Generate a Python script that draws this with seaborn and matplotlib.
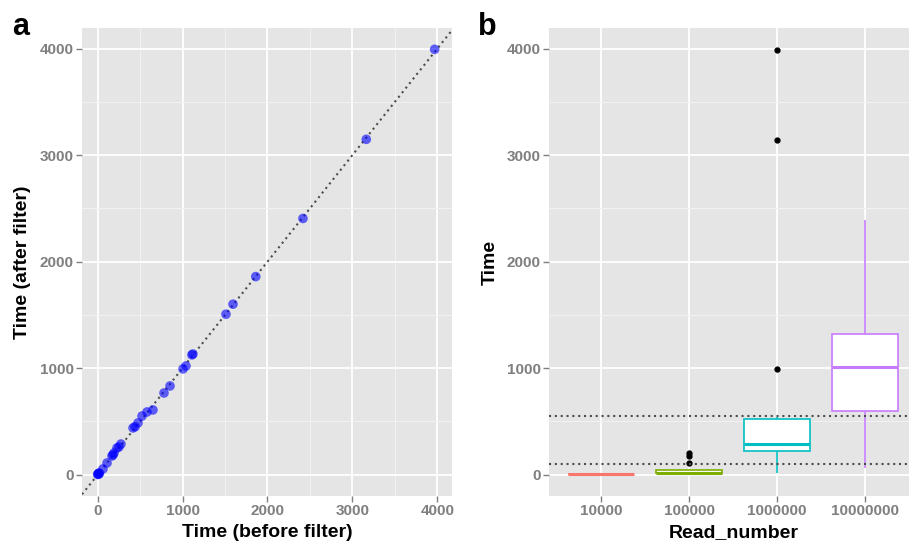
import numpy as np
import pandas as pd
import matplotlib
matplotlib.use("Agg")
import matplotlib.pyplot as plt
import seaborn as sns
from matplotlib.ticker import MultipleLocator

# panel a: run time before / after filtering
before_filter = [0, 5, 10, 15, 20, 62, 110, 168, 180, 192, 227, 250, 274, 416, 440,
                 475, 522, 581, 651, 781, 852, 1005, 1040, 1110, 1122, 1511, 1594,
                 1862, 2418, 3164, 3969]
after_filter = [2, 8, 5, 16, 12, 54, 110, 176, 185, 204, 251, 260, 288, 439, 450,
                486, 551, 589, 608, 767, 833, 993, 1021, 1125, 1133, 1507, 1601,
                1860, 2406, 3149, 3994]

# panel b: time per read number
read_numbers = ["10000", "100000", "1000000", "10000000"]
time_10k = [2, 3, 4, 5, 6, 7, 8]
time_100k = [9, 10, 11, 12, 13, 14, 15, 16, 17, 107, 176, 201]
time_1m = [19, 150, 195, 210, 223, 240, 258, 272, 288, 340, 420, 480, 523, 545,
           990, 3146, 3991]
time_10m = [60, 420, 601, 830, 1014, 1130, 1320, 1860, 2395]
box_colors = ["#F8766D", "#7CAE00", "#00BFC4", "#C77CFF"]
cutoffs = [100, 550]

sns.set_theme(style="darkgrid", rc={
    "axes.facecolor": "#E5E5E5",
    "grid.color": "white",
    "axes.edgecolor": "none",
    "axes.labelcolor": "black",
    "text.color": "black",
    "xtick.bottom": True,
    "ytick.left": True,
    "xtick.color": "#7F7F7F",
    "ytick.color": "#7F7F7F",
    "xtick.major.size": 4,
    "ytick.major.size": 4,
    "xtick.major.width": 1,
    "ytick.major.width": 1,
})
plt.rcParams["font.family"] = ["Liberation Sans", "DejaVu Sans"]

fig = plt.figure(figsize=(9.09, 5.42), dpi=100)
ax_a = fig.add_axes([0.0902, 0.0849, 0.4067, 0.8634])
ax_b = fig.add_axes([0.604, 0.0849, 0.406, 0.8634])


def style_axis(ax):
    ax.set_ylim(-200, 4194)
    ax.yaxis.set_major_locator(MultipleLocator(1000))
    ax.yaxis.set_minor_locator(MultipleLocator(500))
    ax.grid(which="major", color="white", linewidth=1.3)
    ax.grid(which="minor", axis="y", color="#F2F2F2", linewidth=0.7)
    ax.tick_params(which="minor", length=0)
    ax.tick_params(which="major", labelsize=11, pad=2)
    for lab in ax.get_xticklabels() + ax.get_yticklabels():
        lab.set_fontweight("bold")
    for s in ax.spines.values():
        s.set_visible(False)
    ax.set_axisbelow(True)


# ---- panel a ----
df_a = pd.DataFrame({"before": before_filter, "after": after_filter})
sns.scatterplot(data=df_a, x="before", y="after", ax=ax_a, color="#0000FF",
                alpha=0.6, s=48, edgecolor="none", zorder=3)
ax_a.axline((0, 0), slope=1, color="#4D4D4D", linestyle=(0, (1, 1.8)),
            linewidth=1.5, zorder=2)
ax_a.set_xlim(-185, 4170)
ax_a.xaxis.set_major_locator(MultipleLocator(1000))
ax_a.xaxis.set_minor_locator(MultipleLocator(500))
ax_a.grid(which="minor", axis="x", color="#F2F2F2", linewidth=0.7)
style_axis(ax_a)
ax_a.set_xlabel("Time (before filter)", fontsize=14, fontweight="bold", labelpad=4)
ax_a.set_ylabel("Time (after filter)", fontsize=14, fontweight="bold", labelpad=6)

# ---- panel b ----
groups = [time_10k, time_100k, time_1m, time_10m]
df_b = pd.concat([pd.DataFrame({"Read_number": rn, "Time": vals})
                  for rn, vals in zip(read_numbers, groups)], ignore_index=True)
for rn, col in zip(read_numbers, box_colors):
    sns.boxplot(data=df_b[df_b["Read_number"] == rn], x="Read_number", y="Time",
                order=read_numbers, ax=ax_b, color="white", linecolor=col,
                width=0.75, linewidth=1.2, saturation=1,
                medianprops=dict(linewidth=2.2, color=col),
                capprops=dict(visible=False),
                flierprops=dict(marker="o", markerfacecolor="black",
                                markeredgecolor="black", markersize=3.5))
for c in cutoffs:
    ax_b.axhline(c, color="#4D4D4D", linestyle=(0, (1, 1.8)), linewidth=1.5, zorder=5)
ax_b.set_xlim(-0.59, 3.6)
style_axis(ax_b)
ax_b.set_xlabel("Read_number", fontsize=14, fontweight="bold", labelpad=4)
ax_b.set_ylabel("Time", fontsize=14, fontweight="bold", labelpad=6)

fig.text(12 / 909, 1 - 35 / 542, "a", fontsize=22, fontweight="bold", va="baseline")
fig.text(478 / 909, 1 - 35 / 542, "b", fontsize=22, fontweight="bold", va="baseline")

fig.savefig("out.png", dpi=100)
